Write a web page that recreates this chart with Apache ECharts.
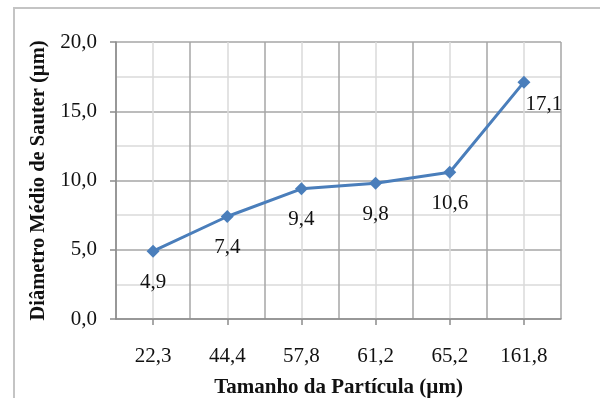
<!DOCTYPE html>
<html>
<head>
<meta charset="utf-8">
<script src="https://cdn.jsdelivr.net/npm/echarts@6/dist/echarts.min.js"></script>
<style>
  html, body { margin: 0; padding: 0; background: #fff; }
  #chart { width: 600px; height: 398px; }
</style>
</head>
<body>
<div id="chart"></div>
<script>
// Particle size classes (µm) and Sauter mean diameter (µm)
const categories = ['22,3', '44,4', '57,8', '61,2', '65,2', '161,8'];
const sauterValues = [4.9, 7.4, 9.4, 9.8, 10.6, 17.1];
const yTicks = [0, 5, 10, 15, 20];

const serif = '"Liberation Serif", "DejaVu Serif", serif';
const fmt = v => v.toFixed(1).replace('.', ',');

const chart = echarts.init(document.getElementById('chart'));

const seriesData = sauterValues.map((v, i) => {
  const item = { value: v };
  if (i === sauterValues.length - 1) {
    item.label = { offset: [20, -9] };
  }
  return item;
});

chart.setOption({
  animation: false,
  backgroundColor: '#fff',
  graphic: [{
    type: 'rect',
    shape: { x: 14, y: 8, width: 620, height: 420 },
    style: { fill: 'none', stroke: '#c4c4c4', lineWidth: 2 },
    z: -10
  }],
  grid: { left: 116, top: 42, right: 39, bottom: 79, containLabel: false, outerBoundsMode: 'none' },
  xAxis: [{
    type: 'category',
    data: categories,
    boundaryGap: true,
    axisLine: { lineStyle: { color: '#8c8c8c', width: 1.5 } },
    axisTick: { show: true, alignWithLabel: true, length: 6, lineStyle: { color: '#8c8c8c', width: 1.5 } },
    axisLabel: { margin: 27, fontFamily: serif, fontSize: 21, color: '#111' },
    splitLine: { show: false },
    name: 'Tamanho da Partícula (µm)',
    nameLocation: 'middle',
    nameGap: 58,
    nameTextStyle: { fontFamily: serif, fontSize: 21, fontWeight: 'bold', color: '#111' }
  }, {
    // background grid: boundaries (major) and category centres (minor)
    type: 'value',
    min: 0, max: 6, interval: 1,
    show: true,
    position: 'bottom',
    axisLine: { show: false },
    axisTick: { show: false },
    axisLabel: { show: false },
    splitLine: { show: true, lineStyle: { color: '#a6a6a6', width: 1.5 } },
    minorTick: { show: false, splitNumber: 2 },
    minorSplitLine: { show: true, lineStyle: { color: '#dadada', width: 1.5 } }
  }],
  yAxis: {
    type: 'value',
    min: yTicks[0],
    max: yTicks[yTicks.length - 1],
    interval: 5,
    axisLine: { show: true, lineStyle: { color: '#8c8c8c', width: 1.5 } },
    axisTick: { show: true, length: 6, lineStyle: { color: '#8c8c8c', width: 1.5 } },
    axisLabel: { margin: 19, fontFamily: serif, fontSize: 21, color: '#111', formatter: v => fmt(v) },
    splitLine: { show: true, lineStyle: { color: '#a6a6a6', width: 1.5 } },
    minorTick: { show: false, splitNumber: 2 },
    minorSplitLine: { show: true, lineStyle: { color: '#dadada', width: 1.5 } },
    name: 'Diâmetro Médio de Sauter (µm)',
    nameLocation: 'middle',
    nameGap: 64,
    nameTextStyle: { fontFamily: serif, fontSize: 20.5, fontWeight: 'bold', color: '#111' }
  },
  series: [{
    type: 'line',
    xAxisIndex: 0,
    data: seriesData,
    symbol: 'diamond',
    symbolSize: 13,
    lineStyle: { color: '#4a7ebb', width: 3 },
    itemStyle: { color: '#4a7ebb' },
    label: {
      show: true,
      position: 'bottom',
      distance: 14,
      fontFamily: serif,
      fontSize: 21,
      color: '#111',
      formatter: p => fmt(p.value)
    },
    z: 5
  }]
});
</script>
</body>
</html>
